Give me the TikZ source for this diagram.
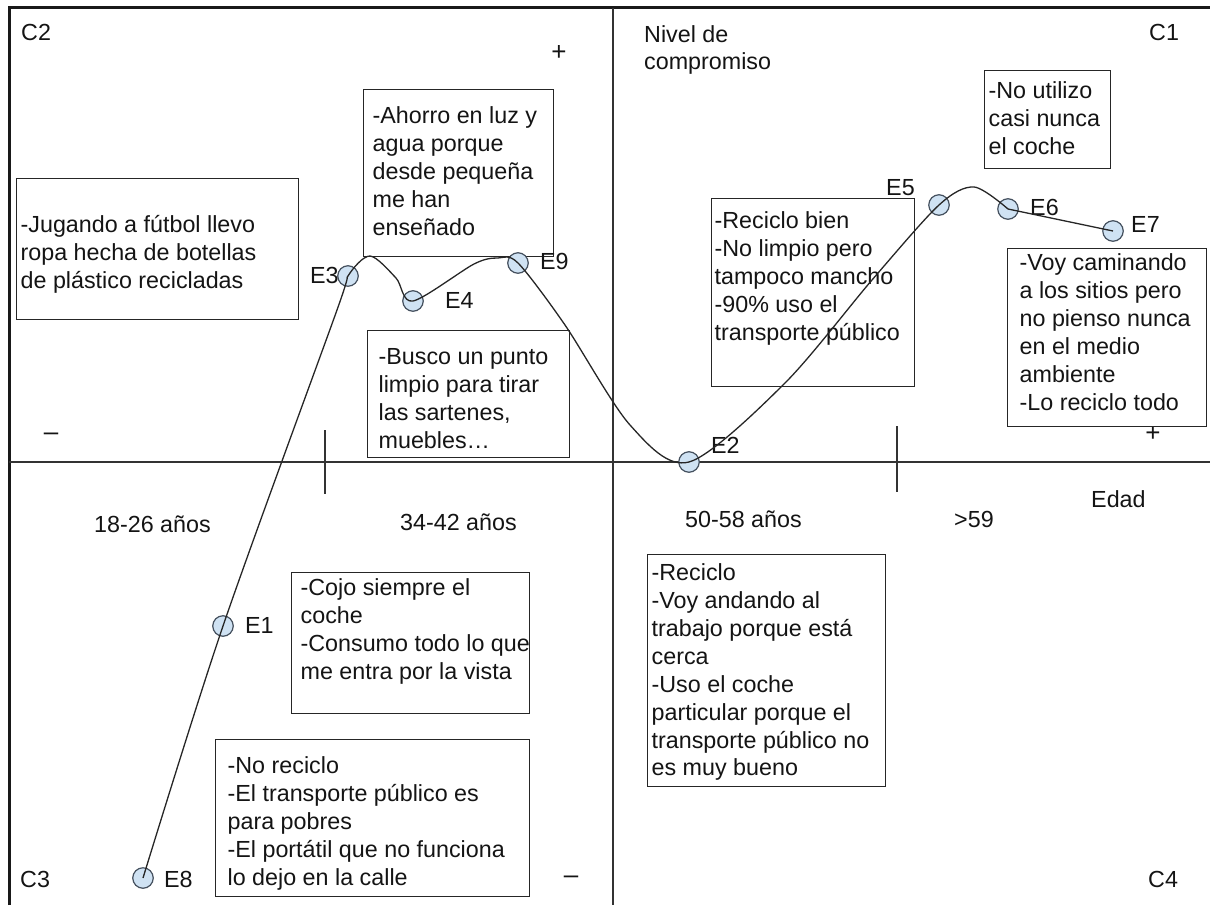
\documentclass[tikz,border=0pt]{standalone}
\usepackage{fontspec}
\setmainfont{Liberation Sans}
\newcommand{\notefont}{\fontsize{23.3}{27.9}\selectfont}
% width, height, left pad, top gap, lines
\newcommand{\nota}[5]{\parbox[t][#2pt][t]{#1pt}{\vspace*{#4pt}\leftskip=#3pt\rightskip=0pt minus 40pt\strut #5}}
\definecolor{estfill}{HTML}{CFE2F3}
\definecolor{estdraw}{HTML}{44505E}

\begin{document}
\begin{tikzpicture}[x=1pt, y=-1pt,
    every node/.style={font=\notefont, inner sep=0pt, text=black!92},
    notebox/.style={draw=black!85, line width=1.3pt, anchor=north west},
    axis line/.style={draw=black!80, line width=1.3pt},
    estado/.style={circle, draw=estdraw, fill=estfill, line width=1.2pt, minimum size=20.5pt},
    etiqueta/.style={anchor=base west},
    signo/.style={anchor=center, font=\fontsize{26}{28}\selectfont},
    trayecto/.style={draw=black!85, line width=1.3pt}
]
\useasboundingbox (0,0) rectangle (1210,905);

% Frame and axes
\draw[line width=3pt, black!90] (9,905) -- (9,7.5) -- (1210,7.5);
\draw[axis line] (9,462) -- (1210,462);
\draw[axis line] (613,7.5) -- (613,905);
\draw[axis line] (325,430) -- (325,494);
\draw[axis line] (897,426) -- (897,492);

% Quadrants and axis labels
\node[etiqueta] (c2) at (21,40) {C2};
\node[etiqueta] (c1) at (1149,40) {C1};
\node[etiqueta] (c3) at (20,887) {C3};
\node[etiqueta] (c4) at (1148,887) {C4};
\node[etiqueta] (nivel) at (644,42) {\parbox[t]{200pt}{\baselineskip=27pt Nivel de\\compromiso}};
\node[etiqueta] (edad) at (1091,507) {Edad};
\node[signo] (mas_y) at (559,53) {+};
\node[signo] (mas_x) at (1153,434) {+};
\node[signo] (menos_x) at (51,437) {--};
\node[signo] (menos_y) at (571,880) {--};

% Age ranges
\node[etiqueta] (edad1) at (94,532) {18-26 años};
\node[etiqueta] (edad2) at (400,530) {34-42 años};
\node[etiqueta] (edad3) at (685,527) {50-58 años};
\node[etiqueta] (edad4) at (954,527) {>59};

% Notes
\node[notebox] (nota3) at (16,178) {\nota{282}{141}{4}{34.5}{-Jugando a fútbol llevo\\ropa hecha de botellas\\de plástico recicladas}};
\node[notebox] (nota4) at (363,89) {\nota{190}{167}{9}{14.5}{-Ahorro en luz y\\agua porque\\desde pequeña\\me han\\enseñado}};
\node[notebox] (nota9) at (367,330) {\nota{202}{127}{11}{14.5}{-Busco un punto\\limpio para tirar\\las sartenes,\\muebles…}};
\node[notebox] (nota5) at (711,198) {\nota{203}{188}{3}{10.5}{-Reciclo bien\\-No limpio pero\\tampoco mancho\\-90\% uso el\\transporte público}};
\node[notebox] (nota6) at (984,70) {\nota{126}{98}{4}{8.5}{-No utilizo\\casi nunca\\el coche}};
\node[notebox] (nota7) at (1007,248) {\nota{199}{178}{12}{2.5}{-Voy caminando\\a los sitios pero\\no pienso nunca\\en el medio\\ambiente\\-Lo reciclo todo}};
\node[notebox] (nota1) at (291,572) {\nota{238}{141}{9}{3.5}{-Cojo siempre el\\coche\\-Consumo todo lo que\\me entra por la vista}};
\node[notebox] (nota8) at (215,739) {\nota{314}{157}{12}{14.5}{-No reciclo\\-El transporte público es\\para pobres\\-El portátil que no funciona\\lo dejo en la calle}};
\node[notebox] (nota2) at (647,554) {\nota{238}{232}{4}{6.5}{-Reciclo\\-Voy andando al\\trabajo porque está\\cerca\\-Uso el coche\\particular porque el\\transporte público no\\es muy bueno}};

% States
\node[estado] (e8) at (143,878) {};
\node[estado] (e1) at (223,626) {};
\node[estado] (e3) at (348,276) {};
\node[estado] (e4) at (413,301) {};
\node[estado] (e9) at (518,263) {};
\node[estado] (e2) at (689,462) {};
\node[estado] (e5) at (939,205) {};
\node[estado] (e6) at (1008,209) {};
\node[estado] (e7) at (1113,231) {};

\node[etiqueta] (t8) at (164,887) {E8};
\node[etiqueta] (t1) at (245,633) {E1};
\node[etiqueta] (t3) at (310,283) {E3};
\node[etiqueta] (t4) at (445,308) {E4};
\node[etiqueta] (t9) at (540,269) {E9};
\node[etiqueta] (t2) at (711,453) {E2};
\node[etiqueta] (t5) at (886,195) {E5};
\node[etiqueta] (t6) at (1030,215) {E6};
\node[etiqueta] (t7) at (1131,232) {E7};

% Path of commitment
\coordinate (ln1) at (337,310);
\coordinate (pk1) at (370,256);
\coordinate (bj1) at (396,278);
\coordinate (sb1) at (474,264);
\coordinate (pk2) at (498,258);
\coordinate (bj2) at (565,325);
\coordinate (bj3) at (630,425);
\coordinate (sb2) at (785,383);
\coordinate (sb3) at (872,280);
\coordinate (pk3) at (974,187);
\draw[trayecto] plot[smooth, tension=0.5] coordinates {(e8.center) (e1.center) (ln1) (e3.center) (pk1) (bj1) (e4.center) (sb1) (pk2) (e9.center) (bj2) (bj3) (e2.center) (sb2) (sb3) (e5.center) (pk3) (e6.center)} -- (e7.center);

\end{tikzpicture}
\end{document}
